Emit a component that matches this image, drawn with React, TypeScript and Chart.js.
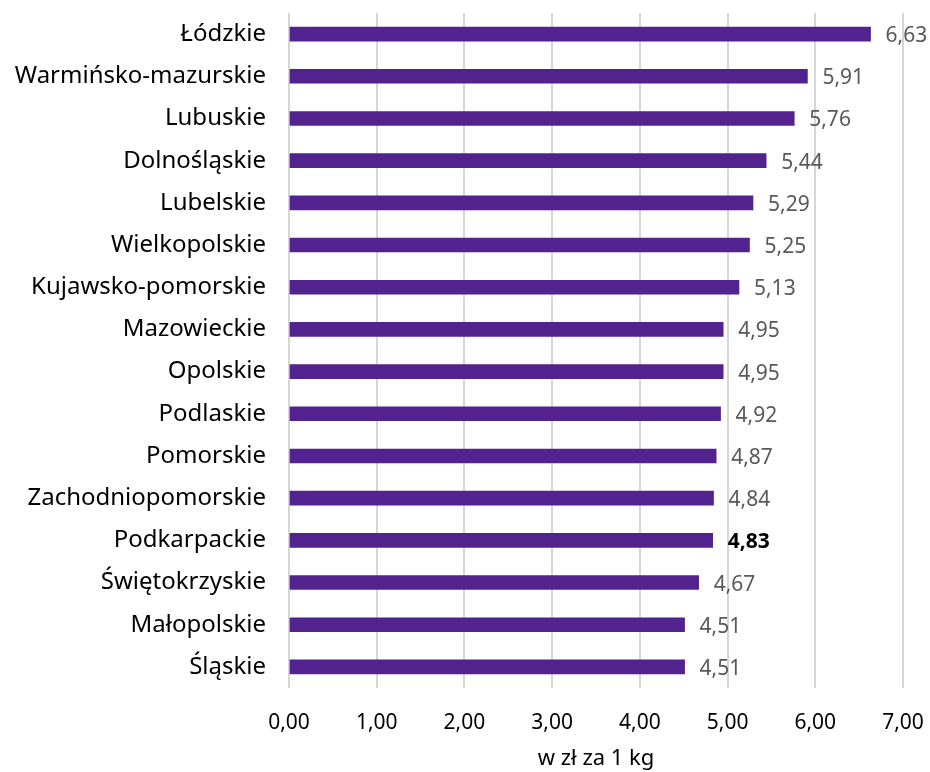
import React, { useEffect, useRef } from "react";
import { Chart, registerables } from "chart.js";

Chart.register(...registerables);

const categories = [
  "Łódzkie",
  "Warmińsko-mazurskie",
  "Lubuskie",
  "Dolnośląskie",
  "Lubelskie",
  "Wielkopolskie",
  "Kujawsko-pomorskie",
  "Mazowieckie",
  "Opolskie",
  "Podlaskie",
  "Pomorskie",
  "Zachodniopomorskie",
  "Podkarpackie",
  "Świętokrzyskie",
  "Małopolskie",
  "Śląskie",
];
const values = [6.63, 5.91, 5.76, 5.44, 5.29, 5.25, 5.13, 4.95, 4.95, 4.92, 4.87, 4.84, 4.83, 4.67, 4.51, 4.51];
const highlighted = ["Podkarpackie"];
const axisTitle = "w zł za 1 kg";
const FONT = "'Noto Sans', sans-serif";

const fmt = (v: number) => v.toFixed(2).replace(".", ",");

const valueLabels = {
  id: "valueLabels",
  afterDatasetsDraw(chart: any) {
    const ctx = chart.ctx;
    const meta = chart.getDatasetMeta(0);
    ctx.save();
    ctx.textBaseline = "middle";
    ctx.textAlign = "left";
    meta.data.forEach((bar: any, i: number) => {
      const bold = highlighted.includes(categories[i]);
      ctx.font = `${bold ? "bold " : ""}21px ${FONT}`;
      ctx.fillStyle = bold ? "#000000" : "#595959";
      ctx.fillText(fmt(values[i]), bar.x + 15, bar.y + 2);
    });
    ctx.restore();
  },
};

export default function App() {
  const ref = useRef<HTMLCanvasElement | null>(null);
  useEffect(() => {
    if (!ref.current) return;
    const chart = new Chart(ref.current, {
      type: "bar",
      data: {
        labels: categories,
        datasets: [
          {
            data: values,
            backgroundColor: "#52238F",
            barThickness: 14,
          },
        ],
      },
      options: {
        indexAxis: "y",
        animation: false,
        responsive: false,
        maintainAspectRatio: false,
        layout: { padding: { top: 13, right: 27, left: 0, bottom: 0 } },
        plugins: { legend: { display: false }, tooltip: { enabled: false } },
        scales: {
          x: {
            min: 0,
            max: 7,
            ticks: {
              stepSize: 1,
              padding: 22,
              color: "#000000",
              font: { family: FONT, size: 21 },
              callback: (v: any) => fmt(Number(v)),
            },
            grid: { color: "#d6d6d6", drawTicks: false, lineWidth: 2 },
            border: { display: false },
            title: {
              display: true,
              text: axisTitle,
              color: "#000000",
              font: { family: FONT, size: 22 },
              padding: { top: 4, bottom: 0 },
            },
            afterFit: (s: any) => {
              s.height = 84;
              s.paddingLeft = 0;
              s.paddingRight = 0;
            },
          },
          y: {
            ticks: {
              padding: 23,
              color: "#000000",
              font: { family: FONT, size: 24 },
              autoSkip: false,
            },
            grid: { display: false, drawTicks: false },
            border: { display: false },
            afterFit: (s: any) => {
              s.width = 289;
              s.paddingTop = 0;
              s.paddingBottom = 0;
            },
          },
        },
      },
      plugins: [valueLabels],
    });
    return () => chart.destroy();
  }, []);
  return (
    <div style={{ position: "fixed", left: 0, top: 0, width: 930, height: 772, background: "#fff" }}>
      <canvas ref={ref} width={930} height={772} />
    </div>
  );
}
